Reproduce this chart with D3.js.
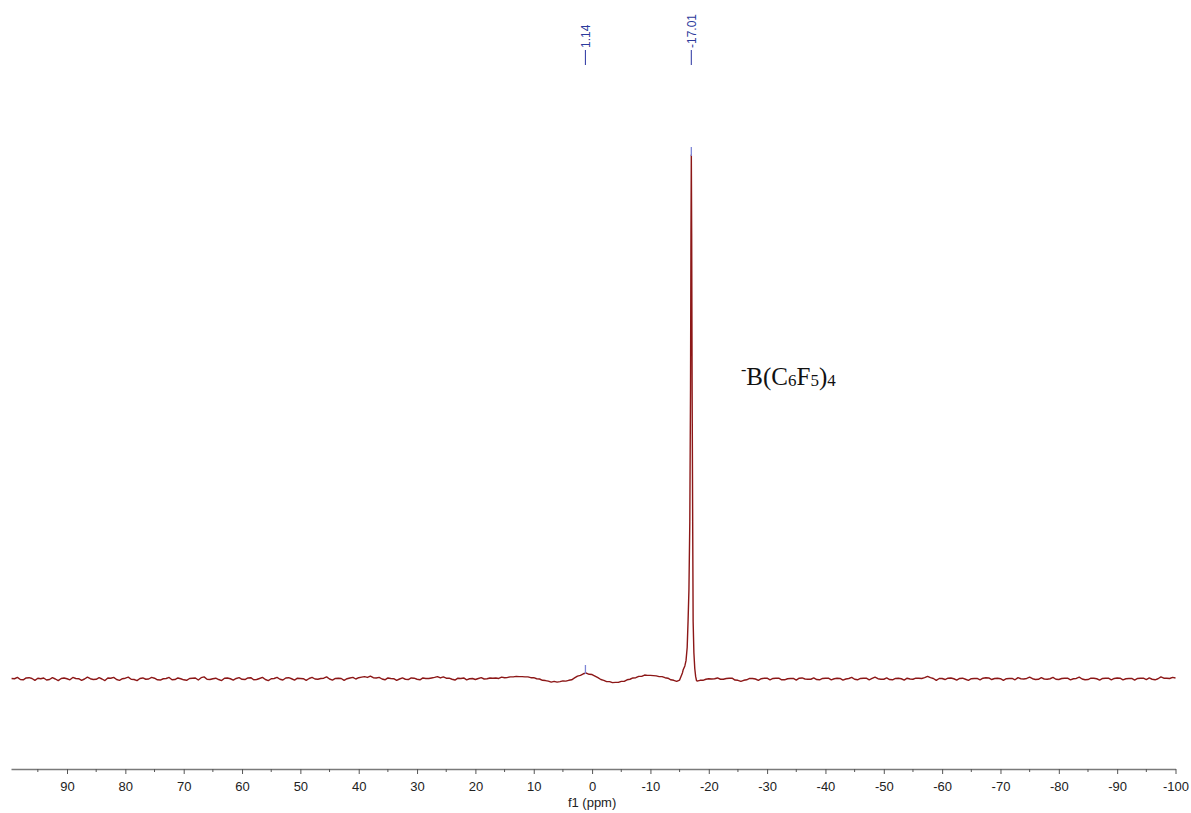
<!DOCTYPE html>
<html>
<head>
<meta charset="utf-8">
<script src="https://cdn.jsdelivr.net/npm/d3@7"></script>
<style>
  body { margin: 0; background: #fff; }
  .tick text { font-family: "Liberation Sans", Arial, sans-serif; }
</style>
</head>
<body>
<div id="vis1"></div>
<script>
const FRAME_WIDTH = 1191;
const FRAME_HEIGHT = 813;

// spectrum sampled every 0.5 ppm from 99.5 down to -100 (null = covered by peak points)
const GRID_START = 99.5;
const GRID_STEP = -0.5;
const gridIntensity = [
  0.1,0.05,0.3,-0.1,-0.15,0.2,0.25,0.1,-0.25,0.15,0.05,0.2,-0.2,-0.1,0.25,0.0,-0.3,0.1,0.2,0.05,
  -0.15,0.3,0.1,0.05,-0.25,0.0,0.35,0.05,-0.1,-0.05,0.25,0.0,-0.3,0.2,0.15,0.3,-0.1,-0.25,0.05,0.15,
  0.35,-0.05,-0.1,-0.3,0.1,0.2,-0.05,0.0,0.3,0.15,-0.15,-0.2,0.05,0.1,0.3,-0.15,-0.1,0.2,0.05,-0.15,
  -0.25,0.1,0.15,0.2,-0.2,0.25,0.4,-0.05,-0.1,0.05,0.15,-0.1,-0.3,0.15,0.2,0.05,-0.2,0.1,0.25,-0.05,
  -0.1,0.2,0.25,-0.15,-0.1,0.1,0.3,-0.1,-0.3,0.05,0.1,0.3,-0.05,-0.2,0.2,0.25,0.05,-0.2,0.15,0.1,
  0.05,-0.25,0.1,0.3,0.0,-0.05,0.1,0.15,0.4,0.0,-0.2,0.1,0.15,0.1,-0.25,0.05,0.2,0.3,0.0,0.25,
  0.35,0.45,0.3,0.55,0.25,0.2,0.3,0.0,-0.15,0.2,0.1,0.05,-0.25,0.0,0.2,-0.05,-0.1,0.2,0.15,-0.05,
  -0.15,0.2,0.1,0.1,0.2,0.3,0.45,0.2,0.4,0.15,0.15,-0.05,-0.2,0.15,0.1,0.2,-0.15,0.05,0.1,-0.1,
  0.1,0.25,0.0,0.05,0.2,0.15,0.2,0.1,0.35,0.25,0.3,0.4,0.4,0.5,0.45,0.45,0.4,0.4,0.25,0.25,
  0.05,0.0,-0.25,-0.3,-0.4,-0.6,-0.45,-0.6,-0.5,-0.35,-0.4,-0.25,-0.15,0.2,0.55,0.7,1.0,1.14,0.9,0.85,
  0.55,0.25,-0.1,-0.25,-0.5,-0.5,-0.7,-0.65,-0.65,-0.45,-0.45,-0.15,-0.05,0.2,0.25,0.5,0.5,0.75,0.7,0.7,
  0.65,0.6,0.45,0.45,0.25,0.15,-0.15,-0.25,-0.45,-0.2,1.2,null,null,null,null,-0.4,-0.25,-0.25,-0.05,0.05,
  0.0,0.05,0.2,-0.05,-0.05,0.1,0.15,0.15,-0.2,-0.25,-0.45,-0.25,-0.15,0.1,0.1,0.0,-0.25,0.05,0.15,0.15,
  -0.15,0.1,0.15,0.15,-0.15,-0.15,0.05,0.1,0.1,-0.2,0.15,0.2,0.0,-0.05,-0.05,0.2,-0.1,-0.15,0.1,0.15,
  0.15,-0.15,0.05,0.15,0.1,-0.2,0.0,0.1,0.3,-0.05,-0.15,0.1,0.15,0.15,-0.15,0.1,0.35,0.05,-0.05,-0.05,
  0.2,-0.1,-0.15,0.1,0.15,0.05,-0.2,0.15,0.0,-0.05,0.15,0.15,0.1,0.25,0.5,0.25,0.1,-0.25,0.1,0.1,
  -0.1,0.15,0.2,0.05,-0.2,0.1,0.15,-0.05,-0.25,0.05,0.1,0.1,-0.15,0.15,0.25,0.2,-0.1,0.1,0.15,0.05,
  -0.25,0.05,0.1,0.1,-0.15,0.25,0.05,0.0,0.1,0.35,0.05,-0.1,-0.05,0.25,0.0,-0.05,0.05,0.3,-0.05,-0.1,
  0.1,0.15,0.15,-0.15,0.05,0.1,0.35,0.0,-0.15,-0.1,0.15,0.15,0.05,-0.2,0.1,0.15,0.15,-0.15,0.1,0.2,
  0.15,-0.15,0.05,0.1,0.1,-0.2,0.1,0.15,0.15,-0.1,0.2,-0.05,-0.15,0.05,0.4,0.15,0.15,0.1,0.3,0.2
];

// main peak, sampled densely
const peakPpm = [-15.6,-15.9,-16.1,-16.3,-16.45,-16.6,-16.75,-16.87,-16.95,-17.01,-17.07,-17.15,-17.25,-17.32,-17.45,-17.6,-17.75,-17.9];
const peakIntensity = [1.7,2.5,3.5,6,11,17,30,55,85,100,85,55,28,11,5,2,0.5,-0.3];

// picked peaks
const peakLabels = ["1.14", "-17.01"];
const peakShifts = [1.14, -17.01];
const peakHeights = [1.14, 100];

const majorTicks = [90,80,70,60,50,40,30,20,10,0,-10,-20,-30,-40,-50,-60,-70,-80,-90,-100];
const minorTicks = [95,85,75,65,55,45,35,25,15,5,-5,-15,-25,-35,-45,-55,-65,-75,-85,-95];

const FRAME1 = d3.select("#vis1")
  .append("svg")
    .attr("width", FRAME_WIDTH)
    .attr("height", FRAME_HEIGHT);

const X_SCALE = d3.scaleLinear().domain([99.6, -100]).range([11, 1175.5]);
const Y_SCALE = d3.scaleLinear().domain([0, 100]).range([679, 155]);

// build point list
let spectrum = gridIntensity
  .map((v, i) => ({ppm: GRID_START + i * GRID_STEP, y: v}))
  .filter(d => d.y !== null);
peakPpm.forEach((p, i) => spectrum.push({ppm: p, y: peakIntensity[i]}));
spectrum.sort((a, b) => b.ppm - a.ppm);

const line = d3.line()
  .x(d => X_SCALE(d.ppm))
  .y(d => Y_SCALE(d.y));

FRAME1.append("path")
  .datum(spectrum)
  .attr("d", line)
  .attr("fill", "none")
  .attr("stroke", "#8c1717")
  .attr("stroke-width", 1.4)
  .attr("stroke-linejoin", "round");

// peak markers on the spectrum
FRAME1.selectAll(".pmark")
  .data(peakShifts)
  .enter()
  .append("line")
    .attr("x1", d => X_SCALE(d))
    .attr("x2", d => X_SCALE(d))
    .attr("y1", (d, i) => Y_SCALE(peakHeights[i]) - 8)
    .attr("y2", (d, i) => Y_SCALE(peakHeights[i]) + 1)
    .attr("stroke", "#7d86d6")
    .attr("stroke-width", 1.3);

// peak labels at top
FRAME1.selectAll(".plabel-line")
  .data(peakShifts)
  .enter()
  .append("line")
    .attr("x1", d => X_SCALE(d))
    .attr("x2", d => X_SCALE(d))
    .attr("y1", 50)
    .attr("y2", 65)
    .attr("stroke", "#3a44a8")
    .attr("stroke-width", 1.1);

FRAME1.selectAll(".plabel")
  .data(peakShifts)
  .enter()
  .append("text")
    .attr("transform", d => `translate(${X_SCALE(d)},48) rotate(-90)`)
    .attr("dy", "0.35em")
    .attr("font-family", "Liberation Sans, Arial, sans-serif")
    .attr("font-size", 12)
    .attr("fill", "#2c3a9c")
    .text((d, i) => peakLabels[i]);

// x axis
const axis = FRAME1.append("g")
  .attr("transform", "translate(0,769)")
  .call(d3.axisBottom(X_SCALE).tickValues(majorTicks).tickSize(5).tickSizeOuter(0).tickPadding(8)
    .tickFormat(d => d.toString()))
  .attr("font-size", 13);
axis.select(".domain").attr("stroke", "#7a7a7a").attr("stroke-width", 1.3);
axis.selectAll(".tick line").attr("stroke", "#555");
axis.selectAll(".tick text").attr("fill", "#222");

axis.selectAll(".minor")
  .data(minorTicks)
  .enter()
  .append("line")
    .attr("x1", d => X_SCALE(d))
    .attr("x2", d => X_SCALE(d))
    .attr("y1", 0)
    .attr("y2", 3)
    .attr("stroke", "#555");

FRAME1.append("text")
  .attr("x", X_SCALE(0))
  .attr("y", 807)
  .attr("text-anchor", "middle")
  .attr("font-family", "Liberation Sans, Arial, sans-serif")
  .attr("font-size", 13)
  .attr("fill", "#222")
  .text("f1 (ppm)");

// compound annotation
const note = FRAME1.append("text")
  .attr("x", 741)
  .attr("y", 385)
  .attr("font-family", "Liberation Serif, Times New Roman, serif")
  .attr("font-size", 25)
  .attr("fill", "#111");
note.append("tspan").attr("font-size", 16).attr("dy", -10).text("-");
note.append("tspan").attr("dy", 10).text("B(C");
note.append("tspan").attr("font-size", 17).attr("dy", 1).text("6");
note.append("tspan").attr("dy", -1).text("F");
note.append("tspan").attr("font-size", 17).attr("dy", 1).text("5");
note.append("tspan").attr("dy", -1).text(")");
note.append("tspan").attr("font-size", 17).attr("dy", 1).text("4");
</script>
</body>
</html>
